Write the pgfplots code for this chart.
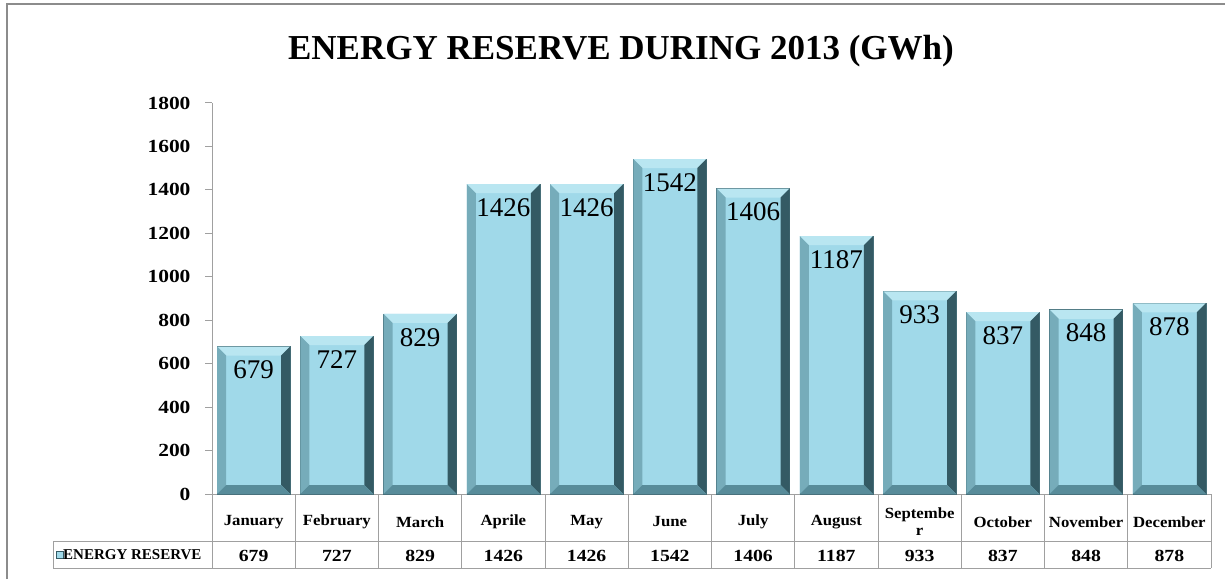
\documentclass[border=0pt]{standalone}
\usepackage{fontspec}
\setmainfont{Liberation Serif}
\newfontfamily\widefont{Liberation Serif}[FakeStretch=1.16]
\newfontfamily\catfont{Liberation Serif}[FakeStretch=1.08]
\usepackage{pgfplots}
\usepackage{pgfplotstable}
\pgfplotsset{compat=1.18}

\definecolor{face}{RGB}{160,217,233}
\definecolor{bevtop}{RGB}{185,230,241}
\definecolor{bevleft}{RGB}{118,172,186}
\definecolor{bevright}{RGB}{52,90,100}
\definecolor{bevbot}{RGB}{88,140,154}
\definecolor{barline}{RGB}{70,110,120}
\definecolor{tablegray}{RGB}{160,160,160}
\definecolor{framegray}{RGB}{140,140,140}

\pgfplotstableread{
idx value
0 679
1 727
2 829
3 1426
4 1426
5 1542
6 1406
7 1187
8 933
9 837
10 848
11 878
}\energy

% bevel frame drawn at the top-centre of each bar; \val is the bar's value
\newcommand{\bevquad}[5]{\pgfsetfillcolor{#1}\pgfpathmoveto{#2}\pgfpathlineto{#3}\pgfpathlineto{#4}\pgfpathlineto{#5}\pgfpathclose\pgfusepath{fill}}
\pgfdeclareplotmark{bevelbar}{%
  \pgfmathsetmacro\h{\val*0.217222}%
  \bevquad{bevtop}{\pgfpoint{-36.5pt}{0pt}}{\pgfpoint{36.5pt}{0pt}}{\pgfpoint{27.5pt}{-9pt}}{\pgfpoint{-27.5pt}{-9pt}}%
  \bevquad{bevleft}{\pgfpoint{-36.5pt}{0pt}}{\pgfpoint{-36.5pt}{-\h pt}}{\pgfpoint{-27.5pt}{9pt-\h pt}}{\pgfpoint{-27.5pt}{-9pt}}%
  \bevquad{bevright}{\pgfpoint{36.5pt}{0pt}}{\pgfpoint{36.5pt}{-\h pt}}{\pgfpoint{27.5pt}{9pt-\h pt}}{\pgfpoint{27.5pt}{-9pt}}%
  \bevquad{bevbot}{\pgfpoint{-36.5pt}{-\h pt}}{\pgfpoint{36.5pt}{-\h pt}}{\pgfpoint{27.5pt}{9pt-\h pt}}{\pgfpoint{-27.5pt}{9pt-\h pt}}%
}

\begin{document}
\begin{tikzpicture}
\useasboundingbox (0pt,0pt) rectangle (1225pt,579pt);
% frame
\draw[framegray, line width=2pt] (7pt,0pt) -- (7pt,575pt) -- (1225pt,575pt);
% title
\node[font=\bfseries\fontsize{35}{35}\selectfont, anchor=base, inner sep=0pt] at (621pt,519pt) {ENERGY RESERVE DURING 2013 (GWh)};

\begin{axis}[
  at={(212pt,85pt)}, anchor=south west,
  scale only axis, width=999pt, height=391pt,
  xmin=-0.5, xmax=11.5, ymin=0, ymax=1800,
  ytick={0,200,...,1800},
  xtick={0,...,11},
  xticklabels={January,February,March,Aprile,May,June,July,August,{Septembe\\r},October,November,December},
  xticklabel style={align=center, anchor=center, yshift=-21pt, font=\catfont\bfseries\fontsize{15.5}{17}\selectfont},
  extra x ticks={0,...,11},
  extra x tick labels={679,727,829,1426,1426,1542,1406,1187,933,837,848,878},
  extra x tick style={xticklabel style={yshift=-34pt, font=\widefont\bfseries\fontsize{17}{17}\selectfont}},
  major x tick style={draw=none},
  axis lines=left,
  axis line style={-, draw=tablegray, line width=1pt},
  y axis line style={draw=none},
  tick align=outside, major tick length=7pt,
  ytick style={draw=tablegray, line width=1pt},
  yticklabel style={font=\widefont\bfseries\fontsize{18.5}{18.5}\selectfont, xshift=-11pt},
  /pgf/number format/1000 sep={},
  /pgf/number format/assume math mode=true,
  clip=false,
]
% bar faces
\addplot[ybar, bar width=73pt, fill=face, draw=barline, line width=0.6pt]
  table[x=idx, y=value] {\energy};
% bevel frames and value labels
\addplot[only marks, mark=bevelbar,
  visualization depends on={rawy \as \val},
  nodes near coords,
  every node near coord/.append style={anchor=north, yshift=-14pt, inner sep=0pt,
    font=\fontsize{27}{27}\selectfont, text=black}]
  table[x=idx, y=value] {\energy};
% outline on top
\addplot[ybar, bar width=73pt, fill=none, draw=barline, line width=0.6pt]
  table[x=idx, y=value] {\energy};
\end{axis}

% table grid
\draw[tablegray, line width=1pt] (212pt,476pt) -- (212pt,11pt);
\foreach \k in {1,...,12} {
  \draw[tablegray, line width=1pt] ({212pt+83.25pt*\k},85pt) -- ({212pt+83.25pt*\k},11pt);
}
\draw[tablegray, line width=1pt] (53pt,38pt) -- (1211pt,38pt);
\draw[tablegray, line width=1pt] (53pt,11pt) -- (1211pt,11pt);
\draw[tablegray, line width=1pt] (53pt,38pt) -- (53pt,11pt);
% legend key in table header
\filldraw[fill=face, draw=bevright, line width=0.8pt] (56pt,21pt) rectangle (63pt,28pt);
\node[anchor=west, font=\bfseries\fontsize{15}{15}\selectfont, inner sep=0pt] at (63pt,24.5pt) {ENERGY RESERVE};
\end{tikzpicture}
\end{document}
